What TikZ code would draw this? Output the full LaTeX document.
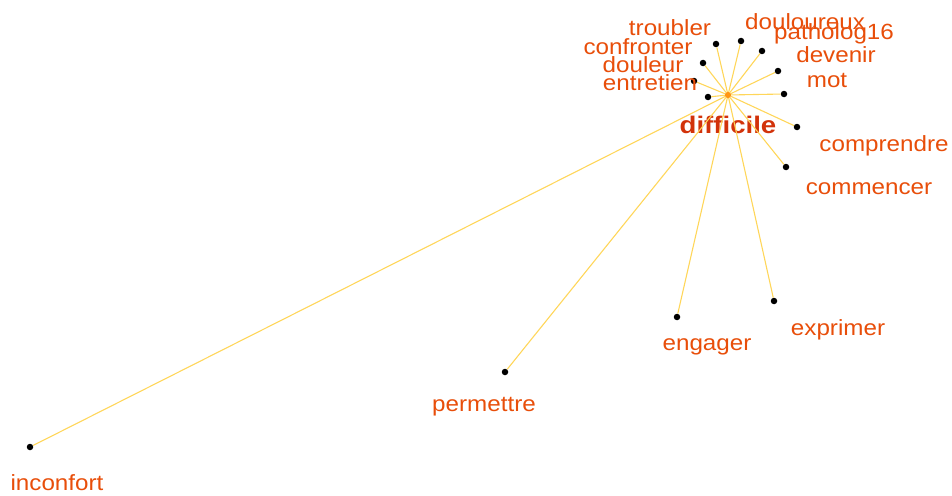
\documentclass[tikz,border=0pt]{standalone}
\usepackage{fontspec}
\setmainfont{Liberation Sans}
\definecolor{lbl}{RGB}{232,78,10}
\definecolor{lblb}{RGB}{210,50,10}
\definecolor{edge}{RGB}{255,214,90}
\definecolor{hub}{RGB}{255,150,20}
\begin{document}
\begin{tikzpicture}[x=1pt,y=-1pt,
  dot/.style={circle,fill=black,inner sep=0pt,minimum size=6.5pt},
  word/.style={text=lbl,font=\fontsize{22}{22}\selectfont,inner sep=0pt,anchor=center,xscale=1.1},
  link/.style={draw=edge,line width=1.1pt}]
\useasboundingbox (0,0) rectangle (952,495);
\node[circle,fill=hub,inner sep=0pt,minimum size=6pt] (c) at (728,95) {};
\node[text=lblb,font=\bfseries\fontsize{24}{24}\selectfont,inner sep=0pt,xscale=1.15] (lc) at (728,125) {difficile};
% dots
\node[dot] (troubler) at (716,44) {};
\node[dot] (douloureux) at (741,41) {};
\node[dot] (patho) at (762,51) {};
\node[dot] (devenir) at (778,71) {};
\node[dot] (mot) at (784,94) {};
\node[dot] (comprendre) at (797,127) {};
\node[dot] (commencer) at (786,167) {};
\node[dot] (confronter) at (703,63) {};
\node[dot] (douleur) at (694,81) {};
\node[dot] (entretien) at (708,97) {};
\node[dot] (engager) at (677,317) {};
\node[dot] (exprimer) at (774,301) {};
\node[dot] (permettre) at (505,372) {};
\node[dot] (inconfort) at (30,447) {};
% edges
\foreach \n in {troubler,douloureux,patho,devenir,mot,comprendre,commencer,confronter,douleur,entretien,engager,exprimer,permettre,inconfort}
  \draw[link] (c) -- (\n);
\node[circle,fill=hub,inner sep=0pt,minimum size=6pt] at (c) {};
% labels
\node[word] (ltroubler) at (670,28) {troubler};
\node[word] (ldouloureux) at (805,22) {douloureux};
\node[word] (lpatho) at (834,34) {patholog16};
\node[word] (ldevenir) at (836,55) {devenir};
\node[word] (lmot) at (827,80) {mot};
\node[word] (lcomprendre) at (884,146) {comprendre};
\node[word] (lcommencer) at (869,189) {commencer};
\node[word] (lconfronter) at (638,47) {confronter};
\node[word] (ldouleur) at (643,65) {douleur};
\node[word] (lentretien) at (650,83) {entretien};
\node[word] (lengager) at (707,347) {engager};
\node[word] (lexprimer) at (838,330) {exprimer};
\node[word] (lpermettre) at (484,407) {permettre};
\node[word] (linconfort) at (57,483) {inconfort};
\end{tikzpicture}
\end{document}
